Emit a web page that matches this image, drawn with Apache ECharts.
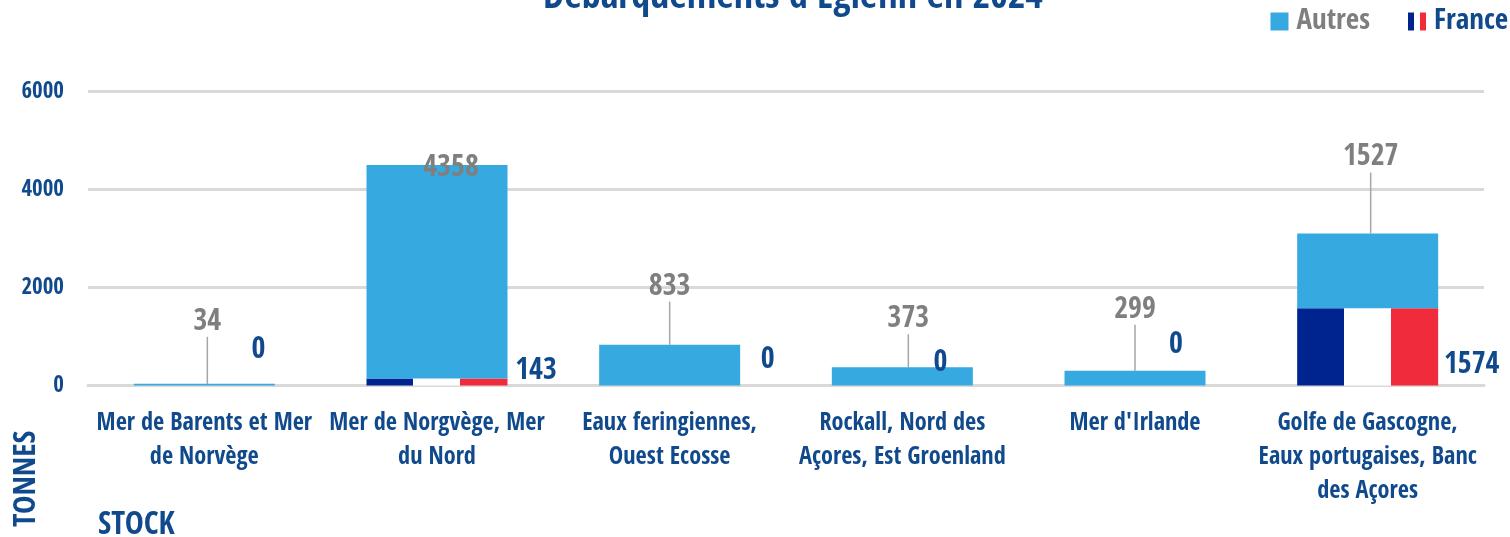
<!DOCTYPE html>
<html>
<head>
    <meta charset="utf-8">
    <title>Débarquements d'Eglefin en 2024</title>
    <script src="https://cdn.jsdelivr.net/npm/echarts@6/dist/echarts.min.js"></script>
    <style>
        html, body { margin: 0; padding: 0; background: #fff; }
        #main { width: 1510px; height: 537px; }
    </style>
</head>
<body>
<div id="main"></div>
<script type="text/javascript">
    var categories = [
        'Mer de Barents et Mer\nde Norvège',
        'Mer de Norgvège, Mer\ndu Nord',
        'Eaux feringiennes,\nOuest Ecosse',
        'Rockall, Nord des\nAçores, Est Groenland',
        "Mer d'Irlande",
        'Golfe de Gascogne,\nEaux portugaises, Banc\ndes Açores'
    ];
    var autres = [34, 4358, 833, 373, 299, 1527];
    var france = [0, 143, 0, 0, 0, 1574];
    var yTicks = [0, 2000, 4000, 6000];

    // where the labels were moved by hand in the original
    var autresShift = [[3, -47], [14, 18], [0, -43], [6, -33], [0, -46], [3, -61]];
    var franceShift = [[54, -35], [99, -11], [98, -25], [38, -22], [41, -40], [104, 18]];

    var BLUE = '#104a8c', GREY = '#7f7f7f', SKY = '#36a9e1';
    var FONT = '"Open Sans Condensed", "Roboto Condensed", sans-serif';

    var flag = new echarts.graphic.LinearGradient(0, 0, 1, 0, [
        { offset: 0, color: '#00248f' }, { offset: 1 / 3, color: '#00248f' },
        { offset: 1 / 3, color: '#ffffff' }, { offset: 2 / 3, color: '#ffffff' },
        { offset: 2 / 3, color: '#ef2b3c' }, { offset: 1, color: '#ef2b3c' }
    ]);

    var myChart = echarts.init(document.getElementById('main'));
    var option = {
        animation: false,
        backgroundColor: '#fff',
        title: {
            text: "Débarquements d'Eglefin en 2024",
            left: 788,
            textAlign: 'center',
            top: -26,
            textStyle: { color: BLUE, fontFamily: FONT, fontWeight: 'bold', fontSize: 38 }
        },
        legend: {
            data: [
                { name: 'Autres', textStyle: { color: GREY } },
                { name: 'France', textStyle: { color: BLUE } }
            ],
            right: 2,
            top: 7,
            padding: 0,
            icon: 'rect',
            itemWidth: 18,
            itemHeight: 18,
            itemGap: 38,
            textStyle: { fontFamily: FONT, fontWeight: 'bold', fontSize: 29, padding: [6, 0, 0, 3] }
        },
        grid: { left: 88, right: 26, top: 91.5, height: 294 },
        xAxis: {
            type: 'category',
            data: categories,
            axisTick: { show: false },
            axisLine: { lineStyle: { color: '#d9d9d9', width: 3 } },
            axisLabel: {
                color: BLUE,
                fontFamily: FONT,
                fontWeight: 'bold',
                fontSize: 24.3,
                lineHeight: 34,
                margin: 21,
                interval: 0
            }
        },
        yAxis: {
            type: 'value',
            min: yTicks[0],
            max: yTicks[yTicks.length - 1],
            interval: 2000,
            axisLine: { show: false },
            axisTick: { show: false },
            splitLine: { lineStyle: { color: '#d9d9d9', width: 3 } },
            axisLabel: {
                color: BLUE,
                fontFamily: FONT,
                fontWeight: 'bold',
                fontSize: 23,
                margin: 24,
                padding: [2, 0, 0, 0],
                formatter: function (v) { return String(v); }
            }
        },
        series: [{
            name: 'France',
            type: 'bar',
            stack: 'total',
            barWidth: 141,
            itemStyle: { color: flag },
            label: {
                show: true,
                color: BLUE,
                fontFamily: FONT,
                fontWeight: 'bold',
                fontSize: 30,
                position: 'inside',
                formatter: '{c}'
            },
            data: france.map(function (v, i) {
                return { value: v, label: { offset: franceShift[i] } };
            })
        }, {
            name: 'Autres',
            type: 'bar',
            stack: 'total',
            barWidth: 141,
            itemStyle: { color: SKY },
            label: {
                show: true,
                color: GREY,
                fontFamily: FONT,
                fontWeight: 'bold',
                fontSize: 30,
                position: 'top',
                distance: 0,
                formatter: '{c}'
            },
            labelLine: { show: true, lineStyle: { color: '#a6a6a6', width: 1.5 } },
            labelLayout: function (p) {
                return { dx: autresShift[p.dataIndex][0], dy: autresShift[p.dataIndex][1] };
            },
            data: autres.map(function (v, i) {
                // the 4358 label sits on its bar, no leader there
                return { value: v, labelLine: { show: i !== 1 } };
            })
        }],
        graphic: [{
            type: 'text',
            left: 98,
            top: 510,
            style: { text: 'STOCK', fill: BLUE, font: 'bold 32px ' + FONT }
        }, {
            type: 'text',
            x: 11,
            y: 527,
            rotation: Math.PI / 2,
            style: { text: 'TONNES', fill: BLUE, font: 'bold 31px ' + FONT }
        }]
    };
    myChart.setOption(option);
</script>
</body>
</html>
